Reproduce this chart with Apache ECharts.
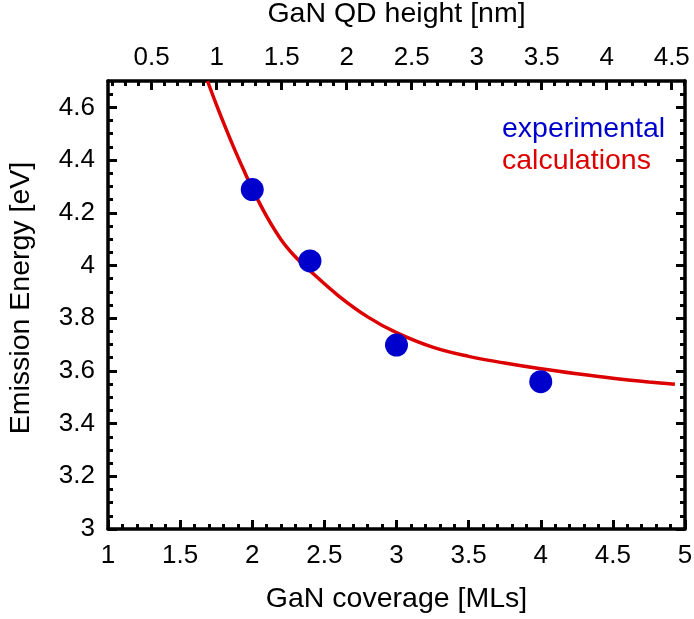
<!DOCTYPE html>
<html>
<head>
<meta charset="utf-8">
<script src="https://cdn.jsdelivr.net/npm/echarts@6/dist/echarts.min.js"></script>
<style>
html,body{margin:0;padding:0;background:#fff;}
#chart{width:694px;height:619px;}
</style>
</head>
<body>
<div id="chart"></div>
<script>
// Experimental points: GaN coverage [MLs] vs emission energy [eV]
const expCoverage = [2.0, 2.4, 3.0, 4.0];
const expEnergy = [4.288, 4.017, 3.698, 3.559];

// Calculated curve
const calcCoverage = [1.69, 1.75, 1.80, 1.87, 1.94, 2.0, 2.1, 2.2, 2.3, 2.4, 2.6, 2.8, 3.0, 3.25, 3.5, 3.75, 4.0, 4.25, 4.5, 4.75, 4.93];
const calcEnergy = [4.70, 4.612, 4.543, 4.450, 4.363, 4.292, 4.186, 4.098, 4.032, 3.980, 3.884, 3.805, 3.745, 3.690, 3.655, 3.630, 3.608, 3.589, 3.572, 3.558, 3.549];

// Axis tick values
const energyMajor = [3.0, 3.2, 3.4, 3.6, 3.8, 4.0, 4.2, 4.4, 4.6];
const energyMinor = [3.05, 3.1, 3.15, 3.25, 3.3, 3.35, 3.45, 3.5, 3.55, 3.65, 3.7, 3.75, 3.85, 3.9, 3.95, 4.05, 4.1, 4.15, 4.25, 4.3, 4.35, 4.45, 4.5, 4.55, 4.65];
const heightMajor = [0.5, 1, 1.5, 2, 2.5, 3, 3.5, 4, 4.5];
const heightMinor = [0.2, 0.3, 0.4, 0.6, 0.7, 0.8, 0.9, 1.1, 1.2, 1.3, 1.4, 1.6, 1.7, 1.8, 1.9, 2.1, 2.2, 2.3, 2.4, 2.6, 2.7, 2.8, 2.9, 3.1, 3.2, 3.3, 3.4, 3.6, 3.7, 3.8, 3.9, 4.1, 4.2, 4.3, 4.4, 4.6];
const heightRange = [0.164, 4.602];
const coverageRange = [1, 5];
const energyRange = [3, 4.7];

const FONT = "'Liberation Sans', Arial, sans-serif";
const LBL = 26, NAME = 28.5;
const expPts = expCoverage.map((x, i) => [x, expEnergy[i]]);
const calcPts = calcCoverage.map((x, i) => [x, calcEnergy[i]]);

const lineStyle = {color: '#000', width: 3.5};
const chart = echarts.init(document.getElementById('chart'));
chart.setOption({
  animation: false,
  backgroundColor: '#fff',
  textStyle: {fontFamily: FONT},
  grid: {left: 108, right: 9, top: 81, bottom: 90, containLabel: false, outerBoundsMode: 'none'},
  legend: {
    orient: 'vertical', left: 492, top: 109, itemWidth: 0, itemHeight: 14, itemGap: 2,
    selectedMode: false, icon: 'none',
    textStyle: {fontSize: 28.5, fontFamily: FONT, lineHeight: 30},
    data: [
      {name: 'experimental', textStyle: {color: '#0000cc'}},
      {name: 'calculations', textStyle: {color: '#dd0000'}}
    ]
  },
  xAxis: [
    {
      type: 'value', position: 'bottom', min: coverageRange[0], max: coverageRange[1], interval: 0.5,
      name: 'GaN coverage [MLs]', nameLocation: 'middle', nameGap: 56,
      nameTextStyle: {fontSize: NAME, color: '#000', fontFamily: FONT},
      axisLine: {show: true, lineStyle: lineStyle},
      axisTick: {show: true, inside: true, length: 9, lineStyle: {color: '#000', width: 3}},
      minorTick: {show: true, splitNumber: 5, length: 5, lineStyle: {color: '#000', width: 3}},
      axisLabel: {fontSize: LBL, color: '#000', margin: 14, fontFamily: FONT},
      splitLine: {show: false}, minorSplitLine: {show: false}
    },
    {
      type: 'value', position: 'top', min: heightRange[0], max: heightRange[1],
      name: 'GaN QD height [nm]', nameLocation: 'middle', nameGap: 52,
      nameTextStyle: {fontSize: NAME, color: '#000', fontFamily: FONT},
      axisLine: {show: true, lineStyle: lineStyle},
      axisTick: {show: true, inside: true, length: 9, customValues: heightMajor, lineStyle: {color: '#000', width: 3}},
      axisLabel: {fontSize: LBL, color: '#000', margin: 10, customValues: heightMajor, fontFamily: FONT},
      splitLine: {show: false}
    },
    {
      type: 'value', position: 'top', min: heightRange[0], max: heightRange[1],
      axisLine: {show: false},
      axisTick: {show: true, inside: true, length: 5, customValues: heightMinor, lineStyle: {color: '#000', width: 3}},
      axisLabel: {show: false},
      splitLine: {show: false}
    }
  ],
  yAxis: [
    {
      type: 'value', position: 'left', min: energyRange[0], max: energyRange[1],
      name: 'Emission Energy [eV]', nameLocation: 'middle', nameGap: 72, nameRotate: 90,
      nameTextStyle: {fontSize: NAME, color: '#000', fontFamily: FONT, padding: [0, 0, 0, 14]},
      axisLine: {show: true, lineStyle: lineStyle},
      axisTick: {show: true, inside: true, length: 9, customValues: energyMajor, lineStyle: {color: '#000', width: 3}},
      axisLabel: {fontSize: LBL, color: '#000', margin: 13, customValues: energyMajor, fontFamily: FONT},
      splitLine: {show: false}
    },
    {
      type: 'value', position: 'left', min: energyRange[0], max: energyRange[1],
      axisLine: {show: false},
      axisTick: {show: true, inside: true, length: 5, customValues: energyMinor, lineStyle: {color: '#000', width: 3}},
      axisLabel: {show: false}, splitLine: {show: false}
    },
    {
      type: 'value', position: 'right', min: energyRange[0], max: energyRange[1],
      axisLine: {show: true, lineStyle: lineStyle},
      axisTick: {show: true, inside: true, length: 9, customValues: energyMajor, lineStyle: {color: '#000', width: 3}},
      axisLabel: {show: false}, splitLine: {show: false}
    },
    {
      type: 'value', position: 'right', min: energyRange[0], max: energyRange[1],
      axisLine: {show: false},
      axisTick: {show: true, inside: true, length: 5, customValues: energyMinor, lineStyle: {color: '#000', width: 3}},
      axisLabel: {show: false}, splitLine: {show: false}
    }
  ],
  series: [
    {
      name: 'calculations', type: 'line', data: calcPts, smooth: 0.4, showSymbol: false,
      xAxisIndex: 0, yAxisIndex: 0, clip: true,
      lineStyle: {color: '#dd0000', width: 3.5}, itemStyle: {color: '#dd0000'}, z: 2
    },
    {
      name: 'experimental', type: 'scatter', data: expPts, symbol: 'circle', symbolSize: 23,
      xAxisIndex: 0, yAxisIndex: 0,
      itemStyle: {color: '#0000cc', opacity: 1}, z: 3
    }
  ]
});
</script>
</body>
</html>
